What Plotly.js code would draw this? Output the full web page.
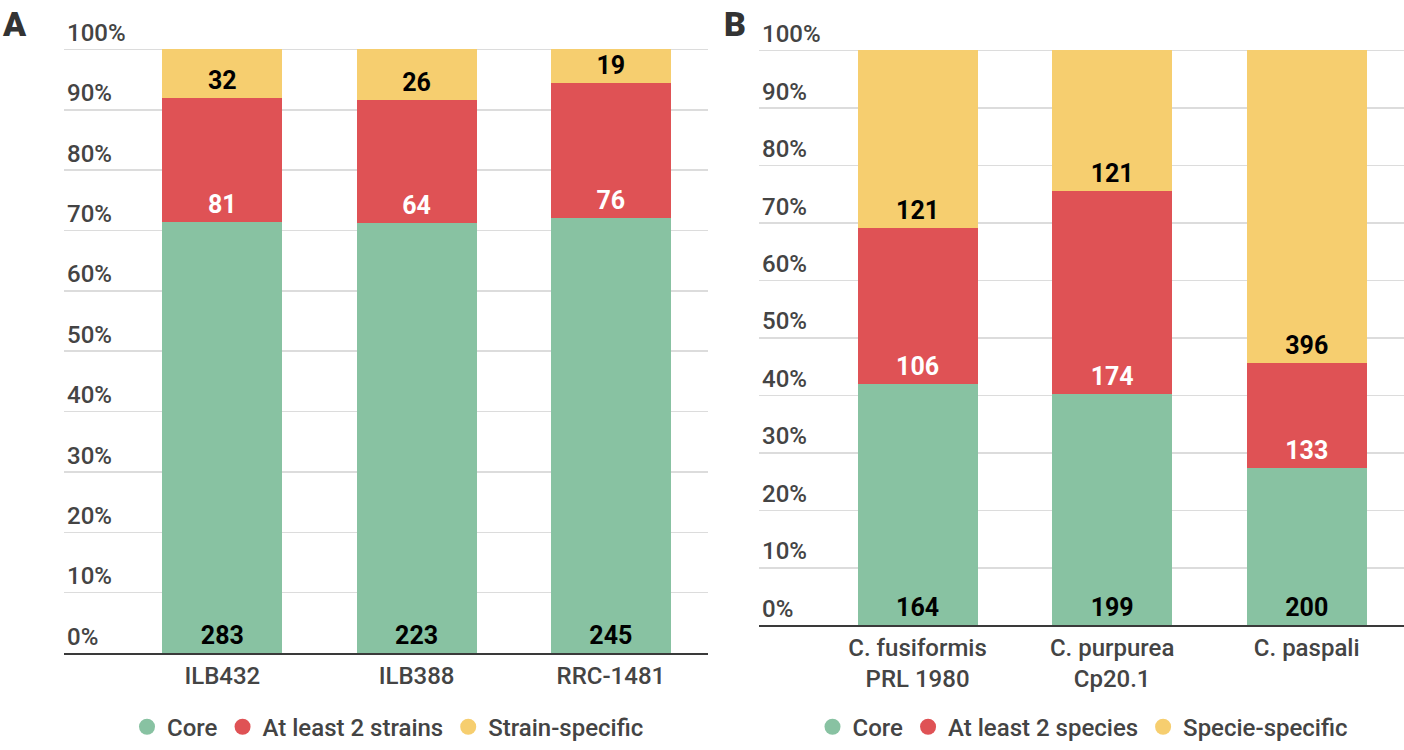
<!DOCTYPE html>
<html>
<head>
<meta charset="utf-8">
<script src="https://cdn.plot.ly/plotly-3.0.1.min.js"></script>
<style>html,body{margin:0;padding:0;background:#fff;}#chart{width:1404px;height:750px;}</style>
</head>
<body>
<div id="chart"></div>
<script>
// Panel A
const categoriesA = ["ILB432", "ILB388", "RRC-1481"];
const coreA = [283, 223, 245];
const sharedA = [81, 64, 76];
const specificA = [32, 26, 19];
const seriesNamesA = ["Core", "At least 2 strains", "Strain-specific"];

// Panel B
const categoriesB = ["C. fusiformis<br>PRL 1980", "C. purpurea<br>Cp20.1", "C. paspali"];
const coreB = [164, 199, 200];
const sharedB = [106, 174, 133];
const specificB = [121, 121, 396];
const seriesNamesB = ["Core", "At least 2 species", "Specie-specific"];

const yTickVals = [0, 10, 20, 30, 40, 50, 60, 70, 80, 90, 100];
const yTickText = ["0%", "10%", "20%", "30%", "40%", "50%", "60%", "70%", "80%", "90%", "100%"];

const colors = ["#88c2a2", "#df5255", "#f6ce6f"];
const textColors = ["#000000", "#ffffff", "#000000"];
const FONT = "Roboto, 'Noto Sans', sans-serif";

function barTrace(cats, vals, i, xa, ya, name, legend) {
  return {
    type: "bar",
    x: cats, y: vals, text: vals.map(String),
    texttemplate: "%{text}",
    textposition: "inside",
    insidetextanchor: "start",
    textangle: 0,
    constraintext: "none",
    insidetextfont: {family: FONT, size: 25, color: textColors[i], weight: 700},
    marker: {color: colors[i], line: {width: 0}},
    xaxis: xa, yaxis: ya,
    name: name,
    showlegend: false,
    legendgroup: legend + name,
    hoverinfo: "skip"
  };
}
function legendTrace(i, xa, ya, name, legend) {
  return {
    type: "scatter", mode: "markers",
    x: [null], y: [null],
    xaxis: xa, yaxis: ya,
    marker: {color: colors[i], size: 17, symbol: "circle"},
    name: name, legend: legend, legendgroup: legend + name,
    showlegend: true
  };
}

const seriesA = [coreA, sharedA, specificA];
const seriesB = [coreB, sharedB, specificB];
const data = [];
seriesA.forEach((v, i) => data.push(barTrace(categoriesA, v, i, "x", "y", seriesNamesA[i], "legend")));
seriesB.forEach((v, i) => data.push(barTrace(categoriesB, v, i, "x2", "y2", seriesNamesB[i], "legend2")));
seriesNamesA.forEach((n, i) => data.push(legendTrace(i, "x", "y", n, "legend")));
seriesNamesB.forEach((n, i) => data.push(legendTrace(i, "x2", "y2", n, "legend2")));

// domain top extended above the 100% gridline so that its label shows
function yAxis(bottomPx, topPx) {
  const extraPx = 46;
  const pxPerUnit = (bottomPx - topPx) / 100;
  const extraTop = extraPx / pxPerUnit;
  return {
    domain: [1 - bottomPx/750, 1 - (topPx - extraPx)/750], range: [0, 100 + extraTop],
    tickmode: "array", tickvals: yTickVals, ticktext: yTickText,
    showgrid: true, gridcolor: "#dcdcdc", gridwidth: 1.5, zeroline: false,
    ticks: "", ticklabelposition: "inside top", showline: false,
    tickfont: {family: FONT, size: 24, color: "#444444", weight: 500},
    fixedrange: true
  };
}
function xAxis(domain, anchor) {
  return {
    domain: domain, anchor: anchor, range: [-0.815, 2.5], type: "category",
    showline: true, linecolor: "#3a3a3a", linewidth: 2, ticks: "",
    showgrid: false, zeroline: false,
    tickfont: {family: FONT, size: 24, color: "#444444", weight: 500},
    fixedrange: true
  };
}

const layout = {
  width: 1404, height: 750,
  margin: {l: 0, r: 0, t: 0, b: 0},
  paper_bgcolor: "#ffffff", plot_bgcolor: "#ffffff",
  barmode: "stack", barnorm: "percent", bargap: 0.383,
  font: {family: FONT, color: "#444444"},
  xaxis: xAxis([64/1404, 708/1404], "y"),
  yaxis: yAxis(660, 50),
  xaxis2: xAxis([759/1404, 1], "y2"),
  yaxis2: Object.assign(yAxis(632, 51), {anchor: "x2"}),
  legend: {
    orientation: "h", x: 388/1404, xanchor: "center", y: 1 - 735/750, yanchor: "middle",
    font: {family: FONT, size: 24, color: "#444444", weight: 500},
    itemwidth: 30, bgcolor: "rgba(0,0,0,0)"
  },
  legend2: {
    orientation: "h", x: 1083/1404, xanchor: "center", y: 1 - 735/750, yanchor: "middle",
    font: {family: FONT, size: 24, color: "#444444", weight: 500},
    itemwidth: 30, bgcolor: "rgba(0,0,0,0)"
  },
  annotations: [
    {text: "A", xref: "paper", yref: "paper", x: 0, y: 1, xanchor: "left", yanchor: "top",
     yshift: -2, showarrow: false, font: {family: FONT, size: 34, color: "#333333", weight: 900}},
    {text: "B", xref: "paper", yref: "paper", x: 722/1404, y: 1, xanchor: "left", yanchor: "top",
     yshift: -2, showarrow: false, font: {family: FONT, size: 34, color: "#333333", weight: 900}}
  ]
};

Plotly.newPlot("chart", data, layout, {displayModeBar: false, staticPlot: true});
</script>
</body>
</html>
